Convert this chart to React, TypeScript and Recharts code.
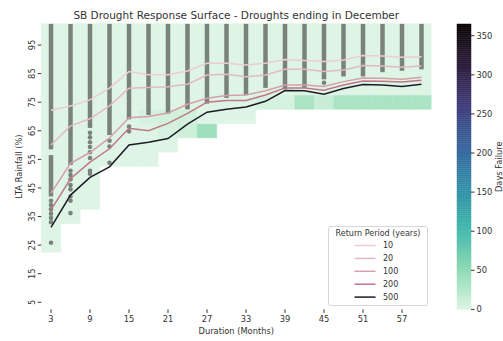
import React from 'react';
import {
  ComposedChart,
  XAxis,
  YAxis,
  Line,
  Scatter,
  ReferenceArea,
  ReferenceLine,
  Legend,
} from 'recharts';

// ---------- data ----------
const durations = [3, 6, 9, 12, 15, 18, 21, 24, 27, 30, 33, 36, 39, 42, 45, 48, 51, 54, 57, 60];
const rainfallBins = [5, 10, 15, 20, 25, 30, 35, 40, 45, 50, 55, 60, 65, 70, 75, 80, 85, 90, 95, 100];
const xTicks = [3, 9, 15, 21, 27, 33, 39, 45, 51, 57];
const yTicks = [5, 15, 25, 35, 45, 55, 65, 75, 85, 95];
const colorbarTicks = [0, 50, 100, 150, 200, 250, 300, 350];
const colorbarMax = 365;

// lowest rainfall bin (%) with data, per duration
const lowestBin = [25, 35, 40, 55, 55, 55, 60, 65, 65, 70, 70, 75, 75, 75, 75, 75, 75, 75, 75, 75];

// [duration, rainfall bin, days failure] for cells that are not 0
const failureCells: [number, number, number][] = [
  [27, 65, 40],
  [42, 75, 32],
  [48, 75, 32],
  [51, 75, 32],
  [54, 75, 32],
  [57, 75, 32],
  [60, 75, 32],
  [36, 75, 6],
  [39, 75, 6],
  [45, 75, 14],
  [18, 70, 6],
  [21, 70, 8],
  [24, 70, 8],
  [21, 65, 6],
  [24, 65, 10],
];

// return period lines (LTA rainfall %)
const returnPeriods = ['10', '20', '100', '200', '500'];
const rp10 = [72.2, 73.7, 75.8, 79.9, 85.7, 84.6, 84.6, 85.9, 88.6, 88.6, 88.0, 88.6, 89.9, 89.6, 89.2, 89.8, 91.3, 91.2, 90.7, 90.9];
const rp20 = [60.0, 66.7, 69.2, 73.7, 79.9, 80.1, 80.4, 81.3, 84.5, 84.8, 83.9, 84.5, 86.5, 86.5, 85.7, 86.3, 87.8, 87.7, 87.2, 87.7];
const rp100 = [43.2, 53.6, 57.4, 62.5, 69.6, 70.0, 71.2, 74.3, 76.4, 77.3, 77.5, 79.0, 81.0, 81.0, 80.5, 82.2, 83.5, 83.4, 83.0, 83.7];
const rp200 = [37.3, 48.2, 54.0, 58.7, 65.9, 65.0, 67.6, 71.1, 75.0, 75.6, 75.6, 77.5, 80.0, 80.0, 79.2, 81.0, 82.4, 82.3, 82.1, 82.7];
const rp500 = [31.2, 42.5, 48.7, 52.4, 60.0, 61.0, 62.3, 67.3, 71.5, 72.5, 73.3, 75.3, 79.1, 79.0, 77.8, 79.8, 81.2, 81.0, 80.5, 81.3];

// dense observed droughts: [duration, low %, high %]
const observedStrips: [number, number, number][] = [
  [3, 58.5, 102.4], [3, 42, 56.5],
  [6, 53, 102.4], [9, 66, 102.4], [12, 63.5, 102.4], [15, 69, 102.4],
  [18, 70.5, 102.4], [21, 71, 102.4], [24, 72.5, 102.4], [27, 74.5, 102.4],
  [30, 76.5, 102.4], [33, 77.5, 102.4], [36, 80, 102.4], [39, 79.5, 102.4],
  [42, 80, 102.4], [45, 83, 102.4], [48, 84, 102.4], [51, 84, 102.4],
  [54, 85.5, 102.4], [57, 86, 102.4], [60, 86.5, 102.4],
];

// sparse observed droughts
const observedDots = [
  { d: 3, v: 40.5 }, { d: 3, v: 39 }, { d: 3, v: 37.5 }, { d: 3, v: 36 }, { d: 3, v: 34.5 }, { d: 3, v: 33 }, { d: 3, v: 25.8 },
  { d: 6, v: 51 }, { d: 6, v: 49.5 }, { d: 6, v: 48 }, { d: 6, v: 46 }, { d: 6, v: 44.5 }, { d: 6, v: 42 }, { d: 6, v: 40.5 }, { d: 6, v: 36.2 },
  { d: 9, v: 64.3 }, { d: 9, v: 62.7 }, { d: 9, v: 61 }, { d: 9, v: 59.3 }, { d: 9, v: 57.5 }, { d: 9, v: 55.5 }, { d: 9, v: 51 }, { d: 9, v: 50 },
  { d: 12, v: 61.5 }, { d: 12, v: 59.5 }, { d: 12, v: 53.8 },
  { d: 15, v: 66.5 }, { d: 15, v: 64.8 },
  { d: 45, v: 81.8 },
];

// ---------- styling ----------
const FONT = '"DejaVu Sans", Verdana, sans-serif';
const TEXT = '#333333';
const lineColors = ['#edcdd2', '#e3bac0', '#d69fa9', '#bf7787', '#1d1b26'];
const STRIP = '#7a827c';
const makoR = ['#DEF5E5', '#8AD9B1', '#40B7AD', '#348FA7', '#37659E', '#413D7B', '#2E1E3C', '#0B0405'];

function hexToRgb(h: string) {
  const n = parseInt(h.slice(1), 16);
  return [(n >> 16) & 255, (n >> 8) & 255, n & 255];
}
function failureColor(days: number) {
  const t = Math.max(0, Math.min(1, days / colorbarMax)) * (makoR.length - 1);
  const i = Math.min(makoR.length - 2, Math.floor(t));
  const f = t - i;
  const a = hexToRgb(makoR[i]);
  const b = hexToRgb(makoR[i + 1]);
  const c = a.map((v, k) => Math.round(v + (b[k] - v) * f));
  return `rgb(${c[0]},${c[1]},${c[2]})`;
}

const chartData = durations.map((d, i) => ({
  d,
  rp10: rp10[i],
  rp20: rp20[i],
  rp100: rp100[i],
  rp200: rp200[i],
  rp500: rp500[i],
}));
const rpKeys = ['rp10', 'rp20', 'rp100', 'rp200', 'rp500'];

const cells: { d: number; r: number; days: number }[] = [];
durations.forEach((d, i) => {
  rainfallBins.forEach((r) => {
    if (r >= lowestBin[i]) {
      const hit = failureCells.find((c) => c[0] === d && c[1] === r);
      cells.push({ d, r, days: hit ? hit[2] : 0 });
    }
  });
});

const cbStep = 2.5;
const cbSlices: { lo: number; hi: number }[] = [];
for (let v = 0; v < colorbarMax; v += cbStep) cbSlices.push({ lo: v, hi: Math.min(colorbarMax, v + cbStep) });
// colorbar extent (min / max of the scale)
const cbData = [
  { x: 0, days: 0 },
  { x: 1, days: colorbarMax },
];

const YTick = (props: any) => {
  const { x, y, payload } = props;
  return (
    <text x={x} y={y} transform={`rotate(-90 ${x} ${y})`} textAnchor="middle" fill={TEXT} fontSize={8.3} fontFamily={FONT}>
      {payload.value}
    </text>
  );
};

const renderLegend = () => (
  <svg width={100} height={80} style={{ display: 'block' }}>
    <rect x={0.5} y={0.5} width={99} height={79} rx={2.5} fill="#ffffff" fillOpacity={0.85} stroke="#d6d6d6" />
    <text x={50} y={10.3} textAnchor="middle" fontSize={8} fontFamily={FONT} fill={TEXT}>
      Return Period (years)
    </text>
    {returnPeriods.map((rp, i) => {
      const cy = 19.5 + i * 12.9;
      return (
        <g key={rp}>
          <line x1={26.5} x2={47.5} y1={cy} y2={cy} stroke={lineColors[i]} strokeWidth={1.5} />
          <text x={55} y={cy + 2.9} fontSize={8} fontFamily={FONT} fill={TEXT}>
            {rp}
          </text>
        </g>
      );
    })}
  </svg>
);

export default function App() {
  return (
    <div style={{ position: 'absolute', left: 0, top: 0, width: 503, height: 341, background: '#ffffff', fontFamily: FONT, overflow: 'hidden' }}>
      <div
        style={{
          position: 'absolute',
          left: 0,
          top: 9,
          width: 472.5,
          textAlign: 'center',
          fontSize: 10.5,
          lineHeight: '12px',
          color: TEXT,
          fontFamily: FONT,
          whiteSpace: 'nowrap',
        }}
      >
        SB Drought Response Surface - Droughts ending in December
      </div>
      <div style={{ position: 'absolute', left: 0, top: 0 }}>
        <ComposedChart width={503} height={341} data={chartData} margin={{ top: 23.6, right: 71.75, left: 0, bottom: 0 }}>
          <XAxis
            type="number"
            dataKey="d"
            domain={[1.5, 61.5]}
            allowDataOverflow
            ticks={xTicks}
            interval={0}
            axisLine={false}
            tickSize={3.5}
            tickMargin={3.5}
            tickLine={{ stroke: TEXT }}
            tick={{ fill: TEXT, fontSize: 8.3, fontFamily: FONT }}
            height={31.6}
            label={{
              content: (p: any) => {
                const vb = p.viewBox;
                return (
                  <text x={vb.x + vb.width / 2} y={vb.y + 25} textAnchor="middle" fill={TEXT} fontSize={8.3} fontFamily={FONT}>
                    Duration (Months)
                  </text>
                );
              },
            }}
          />
          <YAxis
            type="number"
            domain={[2.5, 102.5]}
            allowDataOverflow
            ticks={yTicks}
            interval={0}
            axisLine={false}
            tickSize={3.5}
            tickMargin={2.5}
            tickLine={{ stroke: TEXT }}
            tick={<YTick />}
            width={41.25}
            label={{
              content: (p: any) => {
                const vb = p.viewBox;
                const cx = vb.x + 22;
                const cy = vb.y + vb.height / 2;
                return (
                  <text x={cx} y={cy} transform={`rotate(-90 ${cx} ${cy})`} textAnchor="middle" fill={TEXT} fontSize={8.3} fontFamily={FONT}>
                    LTA Rainfall (%)
                  </text>
                );
              },
            }}
          />
          {cells.map((c) => (
            <ReferenceArea
              key={`c-${c.d}-${c.r}`}
              x1={c.d - 1.5}
              x2={c.d + 1.5}
              y1={c.r - 2.5}
              y2={c.r + 2.5}
              fill={failureColor(c.days)}
              fillOpacity={1}
              stroke={failureColor(c.days)}
              strokeWidth={0.4}
              ifOverflow="visible"
              zIndex={100}
            />
          ))}
          {observedStrips.map((s, i) => (
            <ReferenceLine
              key={`s-${i}`}
              segment={[
                { x: s[0], y: s[1] },
                { x: s[0], y: s[2] },
              ]}
              stroke={STRIP}
              strokeWidth={4.5}
              ifOverflow="visible"
              zIndex={200}
            />
          ))}
          <Scatter
            data={observedDots}
            dataKey="v"
            isAnimationActive={false}
            legendType="none"
            zIndex={300}
            shape={(p: any) => <circle cx={p.cx} cy={p.cy} r={2.3} fill={STRIP} />}
          />
          {rpKeys.map((k, i) => (
            <Line
              key={k}
              dataKey={k}
              name={returnPeriods[i]}
              stroke={lineColors[i]}
              strokeWidth={1.5}
              dot={false}
              activeDot={false}
              isAnimationActive={false}
              zIndex={400 + i}
            />
          ))}
          <Legend
            layout="horizontal"
            verticalAlign="middle"
            align="center"
            content={renderLegend}
            wrapperStyle={{ left: 327.7, top: 225.7, width: 100, height: 80 }}
          />
        </ComposedChart>
      </div>
      <div style={{ position: 'absolute', left: 450, top: 0 }}>
        <ComposedChart width={53} height={341} data={cbData} margin={{ top: 24, right: 0, left: 7, bottom: 31.6 }}>
          <XAxis type="number" dataKey="x" domain={[0, 1]} allowDataOverflow hide />
          <YAxis
            type="number"
            orientation="right"
            domain={[0, colorbarMax]}
            allowDataOverflow
            ticks={colorbarTicks}
            interval={0}
            axisLine={false}
            tickSize={3.5}
            tickMargin={2}
            tickLine={{ stroke: TEXT }}
            tick={{ fill: TEXT, fontSize: 8.3, fontFamily: FONT }}
            width={32}
            label={{
              content: (p: any) => {
                const vb = p.viewBox;
                const cx = vb.x + vb.width - 0.5;
                const cy = vb.y + vb.height / 2;
                return (
                  <text x={cx} y={cy} transform={`rotate(-90 ${cx} ${cy})`} textAnchor="middle" fill={TEXT} fontSize={8.3} fontFamily={FONT}>
                    Days Failure
                  </text>
                );
              },
            }}
          />
          <Line dataKey="days" stroke="none" dot={false} activeDot={false} isAnimationActive={false} legendType="none" />
          {cbSlices.map((s, i) => (
            <ReferenceArea
              key={`cb-${i}`}
              x1={0}
              x2={1}
              y1={s.lo}
              y2={s.hi}
              fill={failureColor((s.lo + s.hi) / 2)}
              fillOpacity={1}
              stroke={failureColor((s.lo + s.hi) / 2)}
              strokeWidth={0.5}
              ifOverflow="visible"
            />
          ))}
        </ComposedChart>
      </div>
    </div>
  );
}
